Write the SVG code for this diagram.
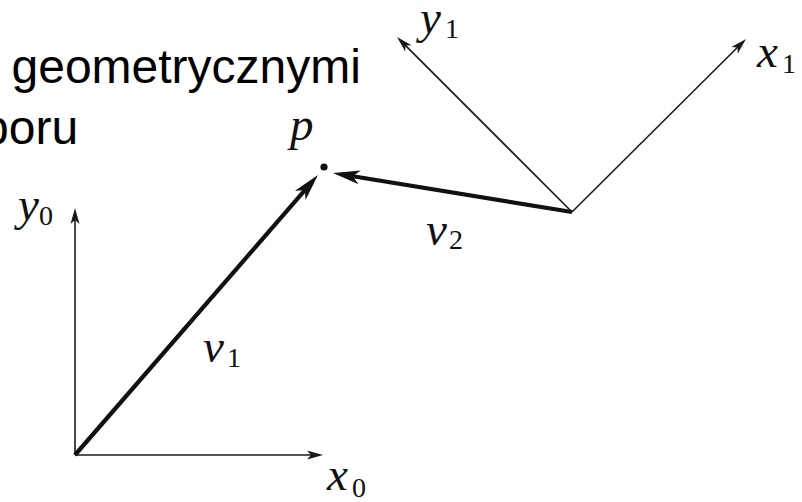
<svg xmlns="http://www.w3.org/2000/svg" width="802" height="502" viewBox="0 0 802 502">
<style>
.txt{font-family:"Liberation Sans",Arial,sans-serif;font-size:48px;fill:#000}
.m{font-family:"Liberation Serif","Times New Roman",serif;font-style:italic;font-size:47px;fill:#111}
.s{font-family:"Liberation Serif","Times New Roman",serif;font-style:normal;font-size:28px;fill:#111}
.axis{stroke:#1a1a1a;stroke-width:1.6;fill:none;marker-end:url(#ah)}
.vec{stroke:#111;stroke-width:4.2;fill:none;marker-end:url(#AH)}
</style>
<defs>
<marker id="ah" markerUnits="userSpaceOnUse" markerWidth="30" markerHeight="30" orient="auto" overflow="visible">
<path d="M9,0 L-7,-4.5 L-3,0 L-7,4.5 Z" fill="#1a1a1a"/>
</marker>
<marker id="AH" markerUnits="userSpaceOnUse" markerWidth="40" markerHeight="40" orient="auto" overflow="visible">
<path d="M14,0 L-13,-7 L-6,0 L-13,7 Z" fill="#111"/>
</marker>
</defs>
<rect width="802" height="502" fill="#fff"/>
<g id="caption">
<text class="txt" x="11.5" y="83">geometrycznymi</text>
<text class="txt" x="-18" y="144">boru</text>
</g>
<g id="frame0">
<line class="axis" x1="75" y1="455" x2="75" y2="217"/>
<line class="axis" x1="75" y1="455" x2="314" y2="455"/>
<text x="18" y="220"><tspan class="m">y</tspan><tspan class="s" x="39" y="225">0</tspan></text>
<text x="327" y="490"><tspan class="m">x</tspan><tspan class="s" x="352" y="497">0</tspan></text>
</g>
<g id="frame1">
<line class="axis" x1="572" y1="212" x2="403.4" y2="43.4"/>
<line class="axis" x1="572" y1="212" x2="739.6" y2="45.3"/>
<text x="420" y="33"><tspan class="m">y</tspan><tspan class="s" x="445" y="38">1</tspan></text>
<text x="757" y="67"><tspan class="m">x</tspan><tspan class="s" x="782" y="73">1</tspan></text>
</g>
<g id="point-p">
<circle cx="324" cy="167" r="3.6" fill="#111"/>
<text class="m" x="290" y="140">p</text>
</g>
<g id="connectors">
<line class="vec" x1="75" y1="455" x2="308.8" y2="185.6"/>
<line class="vec" x1="572" y1="212" x2="346.8" y2="175.3"/>
<text x="203" y="362"><tspan class="m">v</tspan><tspan class="s" x="227" y="367">1</tspan></text>
<text x="426" y="245"><tspan class="m">v</tspan><tspan class="s" x="449" y="249">2</tspan></text>
</g>
</svg>
